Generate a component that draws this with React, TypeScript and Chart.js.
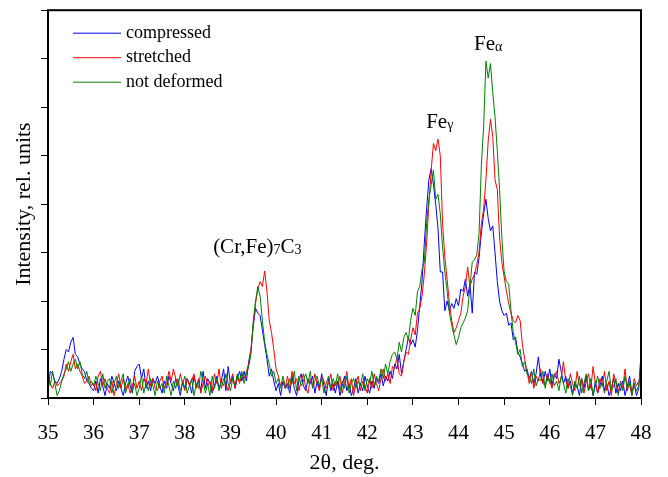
import React, { useEffect, useRef } from "react";
import { Chart, registerables } from "chart.js";

Chart.register(...registerables);

// 2θ grid of the scans (deg)
const START_2THETA = 35;
const STEP_2THETA = 0.05;
const xTickValues = [35, 36, 37, 38, 39, 40, 41, 42, 43, 44, 45, 46, 47, 48];

// Intensity, rel. units
const compressed = [
  // 35.00 - 35.95
  0.2, 0.55, 0.5, 0.35, 0.3, 0.4, 0.55, 0.8, 1.0, 0.95, 1.15, 1.25, 0.9, 0.85, 0.7, 0.6, 0.55, 0.35, 0.3, 0.2,
  // 36.00 - 39.25
  0.15, 0.35, 0.1, 0.4, 0.25, 0.05, 0.3, 0.2, 0.45, 0.3,
  0.15, 0.35, 0.2, 0.05, 0.3, 0.45, 0.25, 0.1, 0.55, 0.65,
  0.7, 0.4, 0.6, 0.2, 0.35, 0.15, 0.4, 0.3, 0.45, 0.25,
  0.1, 0.35, 0.2, 0.45, 0.3, 0.15, 0.4, 0.25, 0.05, 0.35,
  0.2, 0.4, 0.3, 0.1, 0.45, 0.25, 0.35, 0.15, 0.55, 0.2,
  0.4, 0.3, 0.1, 0.25, 0.45, 0.2, 0.35, 0.6, 0.15, 0.65,
  0.3, 0.45, 0.2, 0.4, 0.55, 0.35,
  // 39.30 - 40.20
  0.55, 0.35, 0.75, 1.0, 1.5, 1.85, 1.75, 1.7, 1.4, 1.1, 0.8, 0.45, 0.6, 0.35, 0.15, 0.3, 0.05, 0.35, 0.2,
  // 40.25 - 42.55
  0.3, 0.1, 0.45, 0.2, 0.05, 0.35, 0.5, 0.25, 0.15, 0.4,
  0.3, 0.45, 0.1, 0.35, 0.2, 0.5, 0.25, 0.05, 0.4, 0.15,
  0.3, 0.1, 0.35, 0.05, 0.25, 0.45, 0.15, 0.3, 0.05, 0.2,
  0.4, 0.1, 0.3, 0.15, 0.45, 0.25, 0.1, 0.35, 0.2, 0.4,
  0.3, 0.5, 0.25, 0.45, 0.35, 0.55, 0.4,
  // 42.60 - 44.50
  0.7, 0.6, 0.9, 0.5, 0.75, 1.0, 1.25, 1.1, 1.2, 1.05,
  1.4, 1.9, 2.4, 3.2, 3.9, 4.5, 4.73, 4.4, 4.0, 3.5,
  2.6, 2.6, 1.8, 2.0, 1.8, 1.95, 1.85, 2.05, 1.9, 2.25,
  2.2, 2.45, 2.1, 2.35, 1.75, 2.6, 2.55, 2.9, 3.4,
  // 44.55 - 45.50
  3.8, 4.1, 3.7, 3.45, 3.55, 3.0, 2.4, 2.0, 1.8, 1.7, 1.75, 1.5, 1.55, 1.2, 1.25, 0.95, 0.85, 0.7, 0.55, 0.6,
  // 45.55 - 48.00
  0.4, 0.55, 0.3, 0.5, 0.85, 0.45, 0.3, 0.55, 0.35, 0.6,
  0.25, 0.5, 0.4, 0.8, 0.55, 0.3, 0.45, 0.2, 0.35, 0.1,
  0.3, 0.25, 0.05, 0.4, 0.2, 0.45, 0.15, 0.3, 0.05, 0.35,
  0.1, 0.25, 0.45, 0.15, 0.3, 0.05, 0.2, 0.4, 0.1, 0.3,
  0.15, 0.35, 0.05, 0.25, 0.45, 0.1, 0.3, 0.05, 0.2, 0.9,
];

const stretched = [
  // 35.00 - 35.95
  0.55, 0.3, 0.2, 0.35, 0.25, 0.3, 0.35, 0.45, 0.7, 0.55, 0.75, 0.9, 0.6, 0.7, 0.55, 0.45, 0.3, 0.35, 0.45, 0.25,
  // 36.00 - 39.25
  0.3, 0.15, 0.45, 0.55, 0.25, 0.4, 0.2, 0.1, 0.35, 0.05,
  0.3, 0.5, 0.2, 0.4, 0.15, 0.3, 0.1, 0.25, 0.45, 0.2,
  0.35, 0.15, 0.4, 0.3, 0.6, 0.25, 0.4, 0.2, 0.15, 0.35,
  0.45, 0.2, 0.3, 0.55, 0.35, 0.6, 0.4, 0.25, 0.5, 0.3,
  0.15, 0.4, 0.25, 0.35, 0.5, 0.2, 0.4, 0.1, 0.3, 0.45,
  0.25, 0.35, 0.15, 0.5, 0.3, 0.6, 0.2, 0.4, 0.3, 0.15,
  0.35, 0.5, 0.2, 0.45, 0.3, 0.5,
  // 39.30 - 40.20
  0.4, 0.55, 0.7, 1.0, 1.5, 1.95, 2.25, 2.4, 2.3, 2.62, 2.2, 1.6, 1.35, 1.0, 0.6, 0.45, 0.25, 0.35, 0.2,
  // 40.25 - 42.55
  0.45, 0.2, 0.55, 0.3, 0.4, 0.15, 0.35, 0.5, 0.2, 0.1,
  0.4, 0.25, 0.5, 0.3, 0.15, 0.45, 0.35, 0.2, 0.3, 0.5,
  0.15, 0.35, 0.25, 0.45, 0.1, 0.3, 0.55, 0.2, 0.4, 0.05,
  0.3, 0.45, 0.15, 0.35, 0.25, 0.1, 0.4, 0.2, 0.5, 0.3,
  0.15, 0.4, 0.6, 0.35, 0.5, 0.3, 0.65,
  // 42.60 - 44.50
  0.6, 0.85, 0.5, 0.45, 0.75, 0.95, 0.9, 1.2, 1.45, 1.3,
  1.75, 1.85, 2.1, 2.55, 3.2, 4.0, 4.7, 5.25, 5.1, 5.34,
  5.0, 3.6, 2.9, 2.45, 1.95, 1.6, 1.35, 1.45, 1.6, 1.75,
  2.1, 2.3, 2.7, 2.3, 2.45, 2.55, 2.75, 3.0, 3.6,
  // 44.55 - 45.50
  3.9, 4.5, 5.3, 5.75, 5.4, 4.5, 4.3, 3.3, 2.8, 2.5, 2.2, 1.95, 1.75, 1.6, 1.55, 1.7, 1.6, 1.1, 0.8, 0.55,
  // 45.55 - 48.00
  0.3, 0.55, 0.2, 0.45, 0.35, 0.6, 0.3, 0.25, 0.5, 0.35,
  0.2, 0.45, 0.55, 0.3, 0.4, 0.75, 0.35, 0.2, 0.5, 0.3,
  0.15, 0.55, 0.25, 0.4, 0.1, 0.35, 0.5, 0.2, 0.65, 0.3,
  0.1, 0.4, 0.25, 0.55, 0.15, 0.35, 0.05, 0.5, 0.3, 0.1,
  0.35, 0.2, 0.6, 0.15, 0.3, 0.05, 0.4, 0.25, 0.35, 0.3,
];

const notDeformed = [
  // 35.00 - 35.95
  0.45, 0.25, 0.55, 0.3, 0.05, 0.15, 0.35, 0.5, 0.6, 0.75, 0.55, 0.7, 0.8, 0.6, 0.75, 0.5, 0.4, 0.55, 0.3, 0.35,
  // 36.00 - 39.25
  0.25, 0.45, 0.3, 0.15, 0.5, 0.2, 0.35, 0.4, 0.1, 0.3,
  0.45, 0.2, 0.35, 0.5, 0.1, 0.25, 0.4, 0.15, 0.3, 0.05,
  0.2, 0.45, 0.1, 0.3, 0.15, 0.4, 0.25, 0.05, 0.35, 0.2,
  0.3, 0.1, 0.45, 0.25, 0.05, 0.35, 0.2, 0.4, 0.15, 0.3,
  0.45, 0.1, 0.25, 0.4, 0.05, 0.3, 0.2, 0.55, 0.35, 0.1,
  0.3, 0.05, 0.45, 0.2, 0.4, 0.15, 0.35, 0.25, 0.5, 0.3,
  0.15, 0.4, 0.25, 0.5, 0.35, 0.55,
  // 39.30 - 40.20
  0.3, 0.5, 0.65, 0.9, 1.6, 2.0, 2.3, 2.1, 1.6, 1.15, 0.9, 0.7, 0.45, 0.55, 0.3, 0.4, 0.2, 0.45, 0.25,
  // 40.25 - 42.55
  0.2, 0.4, 0.3, 0.55, 0.15, 0.45, 0.25, 0.35, 0.5, 0.3,
  0.55, 0.2, 0.35, 0.45, 0.25, 0.4, 0.1, 0.3, 0.45, 0.2,
  0.4, 0.25, 0.5, 0.15, 0.35, 0.2, 0.45, 0.1, 0.3, 0.4,
  0.2, 0.35, 0.25, 0.5, 0.15, 0.4, 0.3, 0.55, 0.25, 0.45,
  0.35, 0.6, 0.4, 0.7, 0.5, 0.75, 0.9,
  // 42.60 - 44.50
  0.95, 0.8, 1.15, 0.95, 1.25, 1.35, 1.2, 1.6, 1.85, 1.7,
  2.2, 2.3, 2.65, 2.8, 3.6, 4.1, 4.4, 4.7, 4.1, 4.2,
  3.8, 3.1, 2.6, 2.2, 1.75, 1.5, 1.3, 1.1, 1.25, 1.45,
  1.55, 1.65, 1.8, 2.3, 2.8, 2.85, 2.95, 3.4, 4.8,
  // 44.55 - 45.50
  5.6, 6.95, 6.6, 6.9, 6.3, 5.8, 5.1, 4.3, 3.3, 2.6, 2.4, 2.35, 1.8, 1.35, 1.15, 0.9, 1.0, 0.65, 0.75, 0.5,
  // 45.55 - 48.00
  0.45, 0.3, 0.6, 0.25, 0.4, 0.35, 0.55, 0.2, 0.45, 0.3,
  0.5, 0.25, 0.35, 0.15, 0.45, 0.3, 0.1, 0.4, 0.25, 0.05,
  0.35, 0.2, 0.45, 0.1, 0.3, 0.5, 0.15, 0.4, 0.05, 0.25,
  0.45, 0.2, 0.3, 0.1, 0.35, 0.55, 0.15, 0.25, 0.4, 0.05,
  0.3, 0.15, 0.45, 0.2, 0.35, 0.05, 0.3, 0.15, 0.25, 0.75,
];

const seriesNames = ["compressed", "stretched", "not deformed"];
const seriesColors = ["#0000ff", "#ff0000", "#008000"];
const seriesValues = [compressed, stretched, notDeformed];
const seriesOrder = [2, 1, 0];

// Peak labels: [text, isSubscript] parts, anchored at (2θ, intensity) = left/baseline
const peakLabels = [
  { x: 38.62, y: 2.99, parts: [["(Cr,Fe)", false], ["7", true], ["C", false], ["3", true]] },
  { x: 43.29, y: 5.58, parts: [["Fe", false], ["γ", true]] },
  { x: 44.34, y: 7.18, parts: [["Fe", false], ["α", true]] },
];

const FONT = "'Liberation Serif', 'Times New Roman', serif";

const overlayPlugin = {
  id: "overlay",
  afterDatasetsDraw(chart: any) {
    const { ctx, chartArea: a, scales } = chart;
    const xs = scales.x;
    const ys = scales.y;
    ctx.save();
    // frame
    ctx.strokeStyle = "#000";
    ctx.lineWidth = 2;
    ctx.strokeRect(a.left, a.top, a.right - a.left, a.bottom - a.top);

    // legend
    ctx.font = `18px ${FONT}`;
    ctx.textBaseline = "middle";
    ctx.textAlign = "left";
    seriesNames.forEach((name, i) => {
      const yy = a.top + 23 + i * 24.5;
      ctx.strokeStyle = seriesColors[i];
      ctx.lineWidth = 1;
      ctx.beginPath();
      ctx.moveTo(a.left + 25, yy);
      ctx.lineTo(a.left + 73, yy);
      ctx.stroke();
      ctx.fillStyle = "#000";
      ctx.fillText(name, a.left + 78, yy);
    });

    // peak labels
    ctx.textBaseline = "alphabetic";
    ctx.fillStyle = "#000";
    peakLabels.forEach((lab) => {
      let px = xs.getPixelForValue(lab.x);
      const py = ys.getPixelForValue(lab.y);
      lab.parts.forEach(([t, sub]) => {
        ctx.font = sub ? `14px ${FONT}` : `21px ${FONT}`;
        ctx.fillText(t as string, px, sub ? py + 1 : py);
        px += ctx.measureText(t as string).width;
      });
    });
    ctx.restore();
  },
};

export default function App() {
  const canvasRef = useRef<HTMLCanvasElement | null>(null);

  useEffect(() => {
    document.body.style.margin = "0";
    const canvas = canvasRef.current;
    if (!canvas) return;
    const datasets = seriesValues.map((vals, i) => ({
      label: seriesNames[i],
      data: vals.map((v, k) => ({ x: +(START_2THETA + k * STEP_2THETA).toFixed(2), y: v })),
      borderColor: seriesColors[i],
      backgroundColor: seriesColors[i],
      borderWidth: 1,
      pointRadius: 0,
      tension: 0,
      order: seriesOrder[i],
    }));
    const chart = new Chart(canvas, {
      type: "line",
      data: { datasets },
      plugins: [overlayPlugin],
      options: {
        animation: false,
        responsive: false,
        devicePixelRatio: 1,
        layout: { padding: { top: 7, right: 27, left: 0, bottom: 0 } },
        plugins: { legend: { display: false }, tooltip: { enabled: false } },
        scales: {
          x: {
            type: "linear",
            min: 35,
            max: 48,
            afterBuildTicks: (s: any) => {
              s.ticks = xTickValues.map((v) => ({ value: v }));
            },
            afterFit: (s: any) => {
              s.height = 79;
            },
            border: { display: false },
            grid: {
              display: true,
              drawOnChartArea: false,
              drawTicks: true,
              tickLength: 7,
              color: "#000",
              lineWidth: 1,
            },
            ticks: {
              color: "#000",
              font: { family: FONT, size: 21 },
              padding: 16,
              maxRotation: 0,
              autoSkip: false,
            },
            title: {
              display: true,
              text: "2θ, deg.",
              color: "#000",
              font: { family: FONT, size: 22 },
              padding: { top: 0, bottom: 1 },
            },
          },
          y: {
            type: "linear",
            min: 0,
            max: 8,
            afterFit: (s: any) => {
              s.width = 48;
            },
            border: { display: false },
            grid: {
              display: true,
              drawOnChartArea: false,
              drawTicks: true,
              tickLength: 7,
              color: "#000",
              lineWidth: 1,
            },
            ticks: {
              stepSize: 1,
              callback: () => "",
            },
            title: {
              display: true,
              text: "Intensity, rel. units",
              color: "#000",
              font: { family: FONT, size: 22 },
              padding: { top: 11, bottom: 0 },
            },
          },
        },
      },
    });
    return () => chart.destroy();
  }, []);

  return (
    <div style={{ width: 668, height: 477 }}>
      <canvas ref={canvasRef} width={668} height={477} />
    </div>
  );
}
